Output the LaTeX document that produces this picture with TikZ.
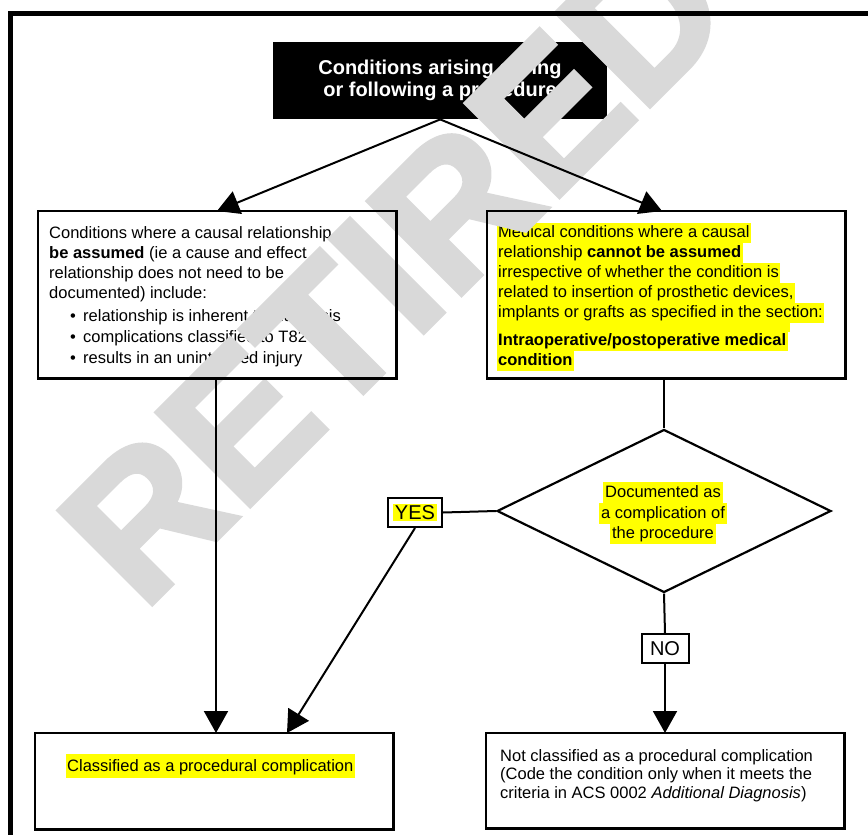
\documentclass[tikz,border=0pt]{standalone}
\usepackage{fontspec}
\setmainfont{Liberation Sans}
\newfontfamily\wmfont[BoldFeatures={FakeBold=2.5}]{Liberation Sans}
\usetikzlibrary{arrows.meta,shapes.geometric}
\definecolor{hl}{RGB}{255,255,0}
\definecolor{wm}{RGB}{217,217,217}
\newcommand{\bodyfont}{\fontsize{16.5}{20}\selectfont}
\tikzset{
  boxfill/.style={fill=white, inner sep=0pt, anchor=north west},
  boxline/.style={draw=black, line width=2.2pt},
  txt/.style={anchor=base west, inner sep=0pt, font=\bodyfont},
  hltxt/.style={txt, fill=hl, inner xsep=1.5pt, inner ysep=0pt, text height=14pt, text depth=6pt},
  dtxt/.style={anchor=base, fill=hl, inner xsep=2pt, inner ysep=0pt, text height=15pt, text depth=6pt, font=\bodyfont},
  lblbox/.style={draw=black, line width=2pt, fill=white, inner sep=0pt, minimum height=29pt},
  conn/.style={line width=2pt, draw=black},
  arr/.style={conn, -{Triangle[length=22pt,width=24pt]}},
}
\begin{document}
\begin{tikzpicture}[x=1pt,y=-1pt]
\useasboundingbox (0,0) rectangle (868,835);
% title box
\node[fill=black, anchor=north west, minimum width=334pt, minimum height=77pt, inner sep=0pt] (T) at (273,42) {};
\node[font=\fontsize{20}{22}\selectfont\bfseries, text=white, align=center, inner sep=0pt] (Tt) at (440,80) {Conditions arising during\\or following a procedure};
% left box
\node[boxfill, minimum width=358pt, minimum height=167pt] (L) at (38,211) {};
\node[txt] (l1) at (49,238) {Conditions where a causal relationship can};
\node[txt] (l2) at (49,258) {\textbf{be assumed} (ie a cause and effect};
\node[txt] (l3) at (49,278) {relationship does not need to be};
\node[txt] (l4) at (49,298) {documented) include:};
\node[txt] (l5) at (70,321) {\makebox[13pt][l]{•}relationship is inherent to diagnosis};
\node[txt] (l6) at (70,342) {\makebox[13pt][l]{•}complications classified to T82–T88};
\node[txt] (l7) at (70,363) {\makebox[13pt][l]{•}results in an unintended injury};
% right box
\node[boxfill, minimum width=358pt, minimum height=167pt] (R) at (487,211) {};
\node[hltxt] (r1) at (496.5,237) {Medical conditions where a causal};
\node[hltxt] (r2) at (496.5,257) {relationship \textbf{cannot be assumed}};
\node[hltxt] (r3) at (496.5,277) {irrespective of whether the condition is};
\node[hltxt] (r4) at (496.5,297) {related to insertion of prosthetic devices,};
\node[hltxt] (r5) at (496.5,317) {implants or grafts as specified in the section:};
\fill[hl] (496.5,322.5) rectangle (790,331.5);
\node[hltxt, font=\bodyfont\bfseries] (r6) at (496.5,345) {Intraoperative/postoperative medical};
\node[hltxt, font=\bodyfont\bfseries] (r7) at (496.5,365) {condition};
% decision
\node[diamond, draw=black, line width=2.2pt, fill=white, minimum width=334pt, minimum height=163pt, inner sep=0pt] (D) at (664,511) {};
\node[dtxt] (d1) at (663,497) {Documented as};
\node[dtxt] (d2) at (663,518) {a complication of};
\node[dtxt] (d3) at (663,538) {the procedure};
% YES / NO
\node[lblbox, minimum width=54pt] (Y) at (415,512.5) {};
\node[fill=hl, inner sep=1.5pt, font=\fontsize{20}{22}\selectfont] (Yt) at (Y) {YES};
\node[lblbox, minimum width=47pt, font=\fontsize{20}{22}\selectfont] (N) at (665,648.5) {NO};
% bottom boxes
\node[boxfill, minimum width=358pt, minimum height=96pt] (BL) at (35,733) {};
\node[hltxt, text height=17pt, text depth=7pt] (b1) at (65.5,771) {Classified as a procedural complication};
\node[boxfill, minimum width=358pt, minimum height=95pt] (BR) at (486,733) {};
\node[txt] (c1) at (500,761) {Not classified as a procedural complication};
\node[txt] (c2) at (500,779.5) {(Code the condition only when it meets the};
\node[txt] (c3) at (500,798) {criteria in ACS 0002 \textit{Additional Diagnosis})};
% watermark
\node[anchor=base west, inner sep=0pt, rotate=45, text=wm, font=\wmfont\fontsize{192}{192}\selectfont\bfseries] (W) at (143,613) {RETIRED};
% outlines
\draw[boxline] (L.north west) rectangle (L.south east);
\draw[boxline] (R.north west) rectangle (R.south east);
\draw[boxline] (BL.north west) rectangle (BL.south east);
\draw[boxline] (BR.north west) rectangle (BR.south east);
\draw[line width=4.5pt] (10.5,845) -- (10.5,13.5) -- (880,13.5);
% connectors
\coordinate (lt) at (217,211);
\coordinate (rt) at (662,211);
\coordinate (lv) at (216,733);
\coordinate (ya) at (287,733);
\draw[arr] (T.south) -- (lt);
\draw[arr] (T.south) -- (rt);
\draw[arr] (lv |- L.south) -- (lv);
\draw[conn] (R.south -| D.north) -- (D.north);
\draw[conn] (D.west) -- (Y.east);
\draw[arr] (Y.south) -- (ya);
\draw[conn] (D.south) -- (N.north);
\draw[arr] (N.south) -- (N.south |- BR.north);
\end{tikzpicture}
\end{document}
